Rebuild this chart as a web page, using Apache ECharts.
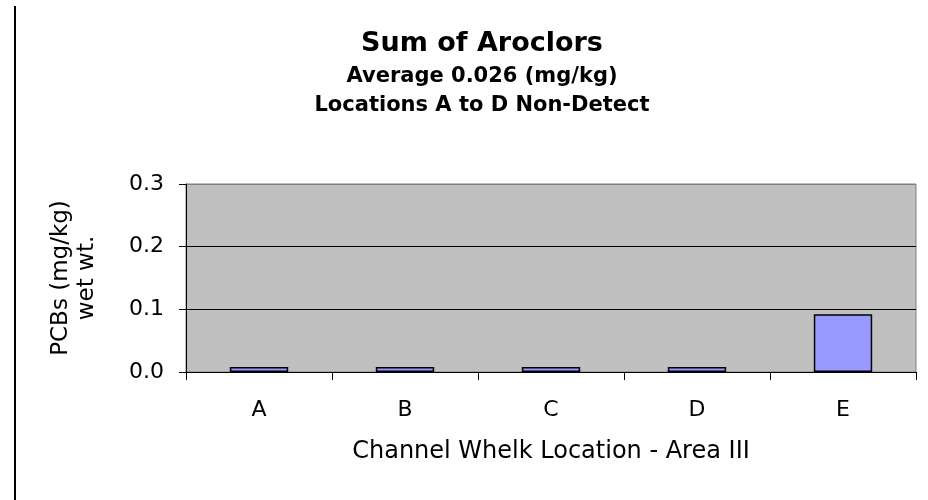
<!DOCTYPE html>
<html>
<head>
<meta charset="utf-8">
<script src="https://cdn.jsdelivr.net/npm/echarts@6/dist/echarts.min.js"></script>
<style>
  html, body { margin: 0; padding: 0; background: #fff; }
  #chart { width: 928px; height: 500px; }
</style>
</head>
<body>
<div id="chart"></div>
<script>
// data
const categories = ["A", "B", "C", "D", "E"];
const aroclorValues = [0.008, 0.008, 0.008, 0.008, 0.092];
const yTicks = [0, 0.1, 0.2, 0.3];

const font = "DejaVu Sans";
const chart = echarts.init(document.getElementById("chart"));

const option = {
  animation: false,
  backgroundColor: "#fff",
  title: {
    text: "Sum of Aroclors",
    subtext: "Average 0.026 (mg/kg)\nLocations A to D Non-Detect",
    left: 477,
    top: 25,
    textAlign: "center",
    itemGap: 5,
    textStyle: {
      fontFamily: font,
      fontSize: 27,
      fontWeight: "bold",
      color: "#000",
    },
    subtextStyle: {
      fontFamily: font,
      fontSize: 21,
      fontWeight: "bold",
      color: "#000",
      lineHeight: 29,
    },
  },
  // thin frame line on the left side of the page
  graphic: [
    {
      type: "line",
      shape: { x1: 15, y1: 6, x2: 15, y2: 500 },
      style: { stroke: "#000", lineWidth: 2 },
      silent: true,
    },
  ],
  grid: {
    left: 186,
    right: 12,
    top: 184,
    bottom: 128,
    show: true,
    backgroundColor: "#c0c0c0",
    borderColor: "#808080",
    borderWidth: 1,
  },
  xAxis: {
    type: "category",
    data: categories,
    name: "Channel Whelk Location - Area III",
    nameLocation: "middle",
    nameGap: 68,
    nameTextStyle: {
      fontFamily: font,
      fontSize: 24,
      color: "#000",
    },
    axisLine: { lineStyle: { color: "#000", width: 1 } },
    axisTick: { show: true, length: 8, lineStyle: { color: "#000" } },
    axisLabel: {
      margin: 27,
      fontFamily: font,
      fontSize: 22,
      color: "#000",
    },
  },
  yAxis: {
    type: "value",
    min: yTicks[0],
    max: yTicks[yTicks.length - 1],
    interval: 0.1,
    name: "PCBs (mg/kg)\nwet wt.",
    nameLocation: "middle",
    nameRotate: 90,
    nameGap: 86,
    nameTextStyle: {
      fontFamily: font,
      fontSize: 23,
      color: "#000",
      lineHeight: 26,
      align: "center",
    },
    axisLine: { show: true, lineStyle: { color: "#000", width: 1 } },
    axisTick: { show: true, length: 7, lineStyle: { color: "#000" } },
    axisLabel: {
      margin: 22,
      fontFamily: font,
      fontSize: 22,
      color: "#000",
      formatter: (v) => v.toFixed(1),
    },
    splitLine: {
      show: true,
      lineStyle: { color: ["#000", "#000", "#000", "#808080"], width: 1 },
    },
  },
  series: [
    {
      type: "bar",
      data: aroclorValues,
      barWidth: "40%",
      itemStyle: {
        color: "#9999ff",
        borderColor: "#000",
        borderWidth: 1.5,
      },
    },
  ],
};

chart.setOption(option);
</script>
</body>
</html>
